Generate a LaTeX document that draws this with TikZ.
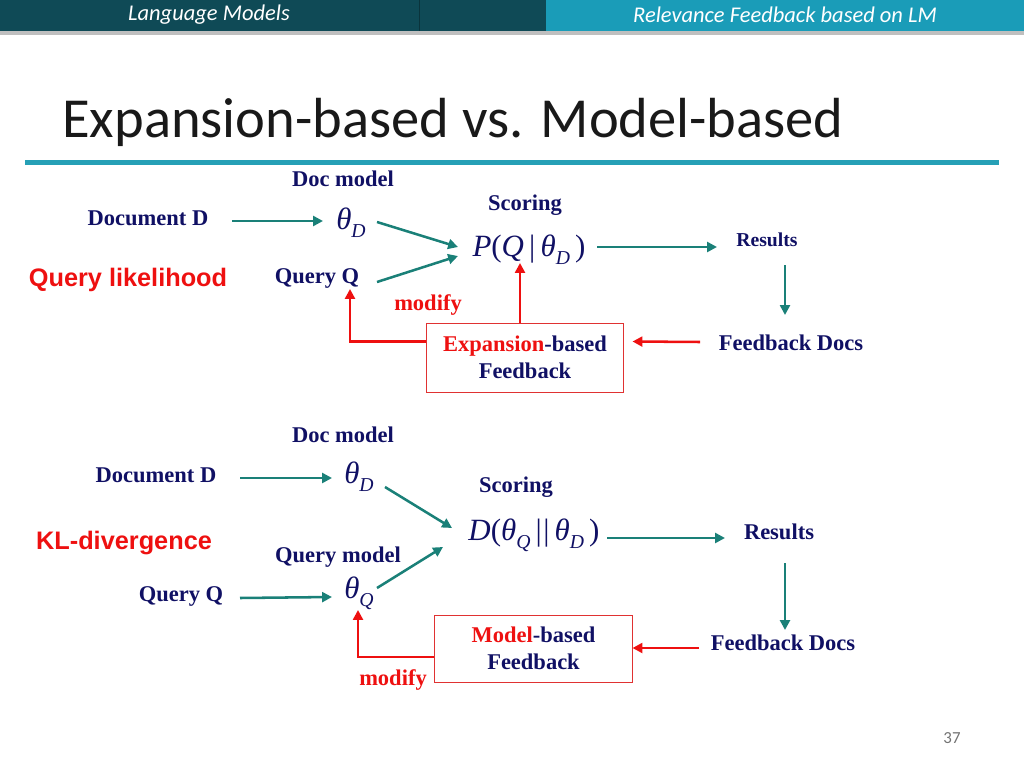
\documentclass[tikz,border=0pt]{standalone}
\usepackage{fontspec}
\setmainfont{Liberation Serif}
\newfontfamily\slidefont{Carlito}
\newfontfamily\arialfont{Liberation Sans}
\usetikzlibrary{arrows.meta,calc}
\definecolor{headdark}{RGB}{15,74,86}
\definecolor{headlight}{RGB}{26,156,184}
\definecolor{rulecol}{RGB}{38,160,182}
\definecolor{navy}{RGB}{16,16,100}
\definecolor{arrteal}{RGB}{26,128,120}
\definecolor{slidered}{RGB}{238,16,16}
\definecolor{boxred}{RGB}{224,50,50}
\newcommand{\thsub}[1]{\textit{θ}\raisebox{-0.55ex}{\fontsize{14}{14}\selectfont\textit{#1}}}
\begin{document}
\begin{tikzpicture}[x=0.025cm,y=-0.025cm,
  lbl/.style={font=\bfseries\fontsize{16}{19}\selectfont,text=navy,inner sep=0pt},
  kind/.style={font=\arialfont\bfseries\fontsize{18}{20}\selectfont,text=slidered,inner sep=0pt},
  formula/.style={font=\fontsize{22}{24}\selectfont,text=navy,inner sep=0pt},
  fbbox/.style={draw=boxred,line width=0.7pt,align=center,font=\bfseries\fontsize{16}{19}\selectfont,text=navy,inner sep=0pt},
  tealarr/.style={draw=arrteal,line width=1.8pt,-{Triangle[length=7pt,width=7pt]}},
  redarr/.style={draw=slidered,line width=1.8pt,-{Triangle[length=7pt,width=7pt]}}]
\useasboundingbox (0,0) rectangle (1024,768);
%
\fill[headdark] (0,0) rectangle (546,31);
\fill[headlight] (546,0) rectangle (1024,31);
\draw[headdark!70!black] (419,0)--(419,31);
\fill[black!25] (0,31) rectangle (1024,35);
\node[font=\slidefont\itshape\fontsize{16}{16}\selectfont,text=white] (chapter) at (209,15) {Language Models};
\node[font=\slidefont\itshape\fontsize{16}{16}\selectfont,text=white] (section) at (785,15) {Relevance Feedback based on LM};
\node[anchor=west,font=\slidefont\fontsize{40.2}{41}\selectfont,text=black!90,inner sep=0pt] (title) at (62,122) {Expansion-based vs. Model-based};
\fill[rulecol] (25,160) rectangle (999,165);
\node[font=\slidefont\fontsize{12}{12}\selectfont,text=black!55] (pagenum) at (952,738) {37};
%
\node[lbl] (docmodelA) at (343,179) {Doc model};
\node[lbl] (docA) at (148,218) {Document D};
\node[formula,anchor=west] (thetaDA) at (336,223) {\thsub{D}};
\node[lbl] (scoreA) at (525,205) {Scoring};
\node[formula] (PA) at (529,250) {\textit{P}(\textit{Q}\,|\,\thsub{D}\,)};
\node[kind] (qlik) at (128,280) {Query likelihood};
\node[lbl] (queryA) at (317,278) {Query Q};
\node[lbl,text=slidered] (modA) at (428,305) {modify};
\node[fbbox,minimum width=4.9cm,minimum height=1.725cm] (boxA) at (525,357.5) {\textcolor{slidered}{Expansion}-based\\Feedback};
\node[lbl,font=\bfseries\fontsize{14}{16}\selectfont] (resA) at (767,240) {Results};
\node[lbl] (fbdA) at (791,343) {Feedback Docs};
%
\draw[tealarr] ($(docA)+(84,3)$) -- ($(thetaDA.west)+(-13,-2)$);
\draw[tealarr] ($(thetaDA.west)+(41,-1)$) -- ($(PA)+(-71,-3)$);
\draw[tealarr] ($(queryA)+(60,4)$) -- ($(PA)+(-71,6)$);
\draw[tealarr] ($(PA)+(68,-3)$) -- ($(resA)+(-50,7)$);
\draw[tealarr] ($(resA)+(18,25)$) -- ($(fbdA)+(-6,-28)$);
\draw[redarr] ($(fbdA)+(-91,-1)$) -- ($(boxA.east)+(9,-16)$);
\draw[redarr] ($(boxA.north)+(-5,0)$) -- ($(PA)+(-9,13)$);
\draw[redarr] ($(boxA.west)+(0,-16)$) -| ($(queryA)+(33,11)$);
%
\node[lbl] (docmodelB) at (343,435) {Doc model};
\node[lbl] (docB) at (156,475) {Document D};
\node[formula,anchor=west] (thetaDB) at (344,477) {\thsub{D}};
\node[lbl] (scoreB) at (516,487) {Scoring};
\node[formula] (DB) at (534,535) {\textit{D}(\thsub{Q}\,\textbar\kern1pt\textbar\,\thsub{D}\,)};
\node[kind] (kldiv) at (124,543) {KL-divergence};
\node[lbl] (qmodelB) at (338,557) {Query model};
\node[lbl] (queryB) at (181,596) {Query Q};
\node[formula,anchor=west] (thetaQB) at (344,593) {\thsub{Q}};
\node[fbbox,minimum width=4.925cm,minimum height=1.675cm] (boxB) at (533.5,648.5) {\textcolor{slidered}{Model}-based\\Feedback};
\node[lbl,text=slidered] (modB) at (393,680) {modify};
\node[lbl] (resB) at (779,532) {Results};
\node[lbl] (fbdB) at (783,643) {Feedback Docs};
%
\draw[tealarr] ($(docB)+(84,3)$) -- ($(thetaDB.west)+(-12,1)$);
\draw[tealarr] ($(thetaDB.west)+(41,10)$) -- ($(DB)+(-82,-7)$);
\draw[tealarr] ($(queryB)+(59,2)$) -- ($(thetaQB.west)+(-12,4)$);
\draw[tealarr] ($(thetaQB.west)+(33,-5)$) -- ($(DB)+(-91,12)$);
\draw[tealarr] ($(DB)+(73,3)$) -- ($(resB)+(-54,6)$);
\draw[tealarr] ($(resB)+(6,31)$) -- ($(fbdB)+(2,-13)$);
\draw[redarr] ($(fbdB)+(-84,5)$) -- ($(boxB.east)+(0,-0.5)$);
\draw[redarr] ($(boxB.west)+(0,8.5)$) -| ($(thetaQB.west)+(14,17)$);
\end{tikzpicture}
\end{document}
